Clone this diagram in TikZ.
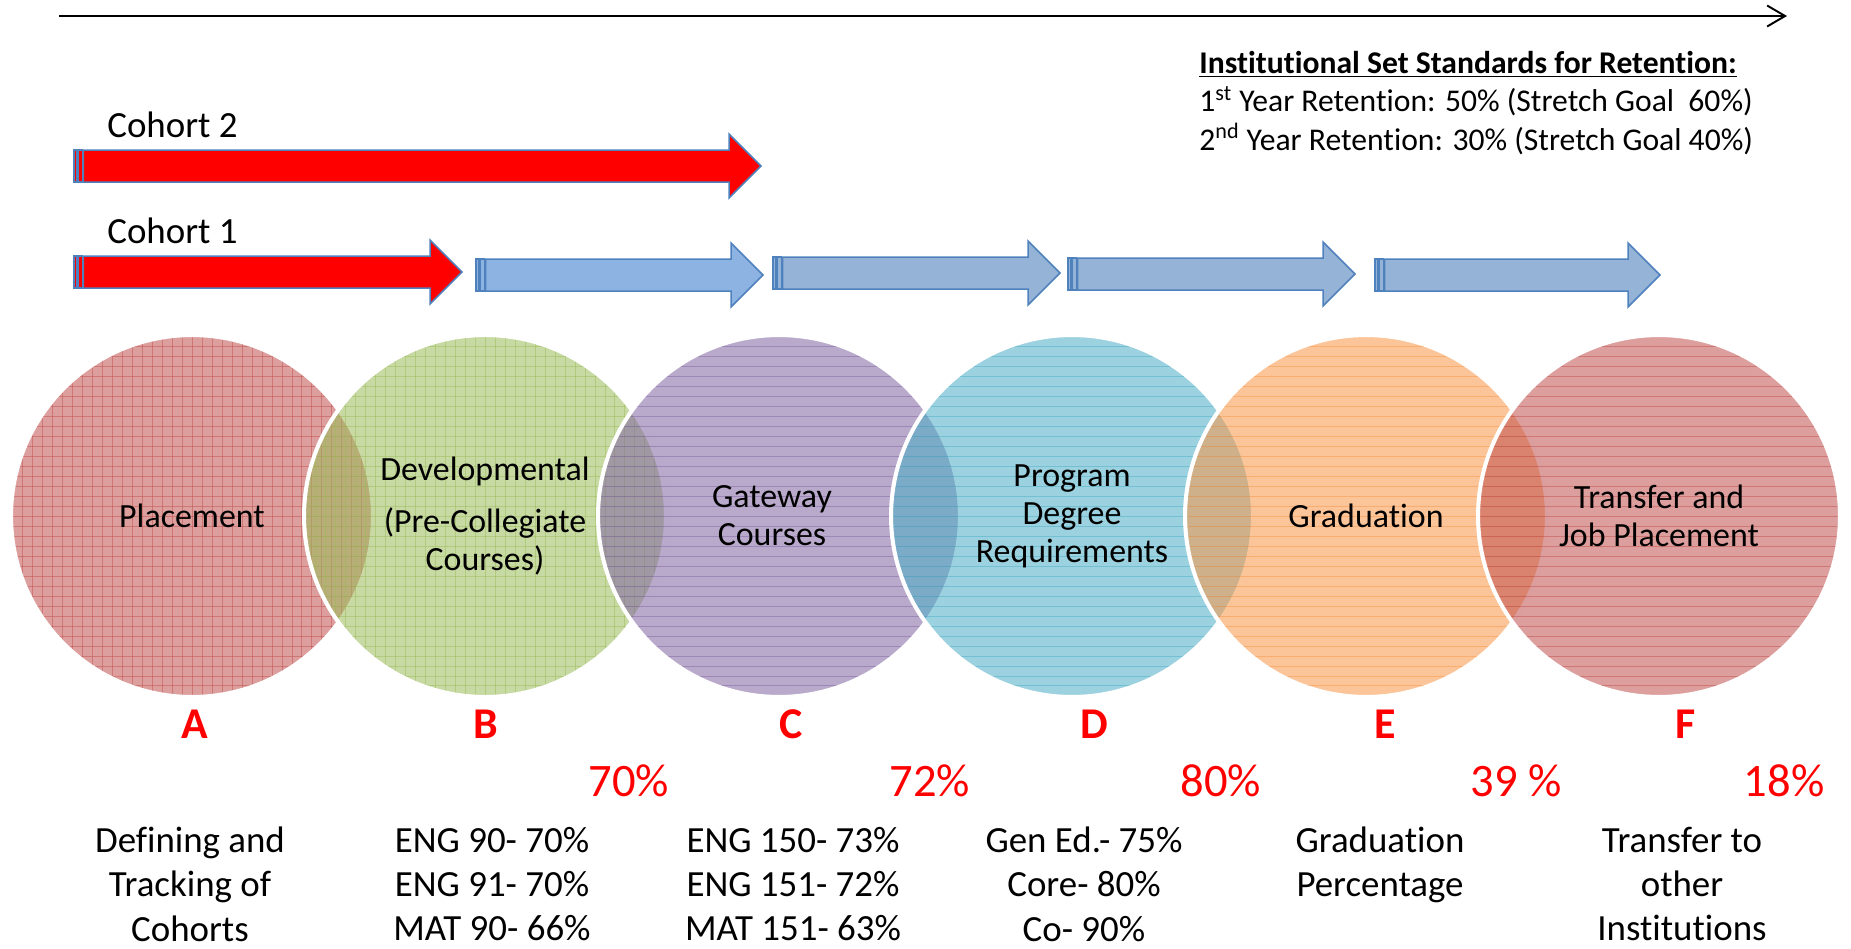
\documentclass[tikz,border=0pt]{standalone}
\usepackage{fontspec}
\setmainfont{Carlito}[Ligatures={NoCommon,NoContextual,NoRequired}]
\usetikzlibrary{arrows.meta}
\definecolor{vennRed}{HTML}{C0504D}
\definecolor{vennGreen}{HTML}{9BBB59}
\definecolor{vennPurple}{HTML}{8064A2}
\definecolor{vennAqua}{HTML}{4BACC6}
\definecolor{vennOrange}{HTML}{F79646}
\definecolor{stageBlue}{HTML}{8DB3E2}
\definecolor{stageGrey}{HTML}{95B3D7}
\definecolor{shapeLine}{HTML}{4F81BD}
\begin{document}
\begin{tikzpicture}[x=0.02cm, y=-0.02cm,
    vennStyle/.style={circle, minimum size=7.24cm, inner sep=0pt, fill=#1, fill opacity=0.55, text opacity=1, draw=white, line width=2.3pt, align=center, font=\fontsize{19.3}{21.6}\selectfont},
    hLines/.style={path picture={
        \foreach \k in {-18,...,18}
            \draw[#1, line width=0.55pt, opacity=0.5] ([yshift=\k*0.2cm]path picture bounding box.west) -- ([yshift=\k*0.2cm]path picture bounding box.east);}},
    gridLines/.style={path picture={
        \foreach \k in {-18,...,18} {
            \draw[#1, line width=0.55pt, opacity=0.5] ([yshift=\k*0.2cm]path picture bounding box.west) -- ([yshift=\k*0.2cm]path picture bounding box.east);
            \draw[#1, line width=0.55pt, opacity=0.5] ([xshift=\k*0.2cm]path picture bounding box.north) -- ([xshift=\k*0.2cm]path picture bounding box.south);}}},
    arrowLine/.style={draw=shapeLine, line width=0.85pt, line join=miter},
    cohortStyle/.style={anchor=base west, inner sep=0pt, font=\fontsize{21}{25}\selectfont},
    stdStyle/.style={anchor=west, inner sep=0pt, font=\fontsize{18}{21.6}\selectfont},
    tagStyle/.style={text=red, font=\fontsize{25}{30}\selectfont\bfseries},
    rateStyle/.style={text=red, font=\fontsize{26.5}{30}\selectfont},
    noteStyle/.style={align=center, font=\fontsize{21}{25.3}\selectfont}]
    \useasboundingbox (0,0) rectangle (1851,948);

    % time line
    \coordinate (timeStart) at (59,16);
    \coordinate (timeEnd) at (1787,16);
    \draw[line width=1.1pt, -{Straight Barb[length=0.36cm, width=0.42cm]}] (timeStart) -- (timeEnd);

    % retention standards
    \node[stdStyle] (stdTitle) at (1199,64) {\bfseries\underline{Institutional Set Standards for Retention:}};
    \node[stdStyle] (stdFirst) at (1199,101) {1\textsuperscript{st} Year Retention: 50\% (Stretch Goal~~60\%)};
    \node[stdStyle] (stdSecond) at (1199,139) {2\textsuperscript{nd} Year Retention: 30\% (Stretch Goal 40\%)};

    % cohorts
    \node[cohortStyle] (cohortTwo) at (107,137) {Cohort 2};
    \node[cohortStyle] (cohortOne) at (107,243) {Cohort 1};

    \foreach \xa/\xb/\yc/\col in {74/761/166/red, 74/462/272/red, 476/763/275/stageBlue, 773/1060/273/stageGrey, 1068/1355/274/stageGrey, 1375/1660/275/stageGrey} {
        \draw[arrowLine, fill=\col] (\xa,\yc-16) rectangle ++(3,32);
        \draw[arrowLine, fill=\col] (\xa+4.5,\yc-16) rectangle ++(4,32);
        \draw[arrowLine, fill=\col] (\xa+9.5,\yc-16) -- (\xb-32,\yc-16) -- (\xb-32,\yc-32) -- (\xb,\yc)
            -- (\xb-32,\yc+32) -- (\xb-32,\yc+16) -- (\xa+9.5,\yc+16) -- cycle;
    }

    % stages
    \node[vennStyle=vennRed, gridLines=vennRed] (placement) at (192,516) {Placement};
    \node[vennStyle=vennGreen, gridLines=vennGreen] (developmental) at (485,516) {Developmental\\[8.5pt](Pre-Collegiate\\Courses)};
    \node[vennStyle=vennPurple, hLines=vennPurple] (gateway) at (779,516) {Gateway\hspace*{8pt}\\Courses\hspace*{8pt}};
    \node[vennStyle=vennAqua, hLines=vennAqua] (program) at (1072,516) {Program\\Degree\\Requirements};
    \node[vennStyle=vennOrange, hLines=vennOrange] (graduation) at (1366,516) {Graduation};
    \node[vennStyle=vennRed, hLines=vennRed] (transfer) at (1659,516) {Transfer and\\Job Placement};

    \node[tagStyle] (tagA) at (195,724) {A};
    \node[tagStyle] (tagB) at (486,724) {B};
    \node[tagStyle] (tagC) at (791,724) {C};
    \node[tagStyle] (tagD) at (1094,724) {D};
    \node[tagStyle] (tagE) at (1385,724) {E};
    \node[tagStyle] (tagF) at (1686,724) {F};

    \node[rateStyle] (rateB) at (629,781) {70\%};
    \node[rateStyle] (rateC) at (930,781) {72\%};
    \node[rateStyle] (rateD) at (1221,781) {80\%};
    \node[rateStyle] (rateE) at (1516,781) {39 \%};
    \node[rateStyle] (rateF) at (1784,781) {18\%};

    \node[noteStyle] (noteA) at (190,884) {Defining and\\Tracking of\\Cohorts};
    \node[noteStyle] (noteB) at (492,884) {ENG 90- 70\%\\ENG 91- 70\%\\MAT 90- 66\%};
    \node[noteStyle] (noteC) at (793,884) {ENG 150- 73\%\\ENG 151- 72\%\\MAT 151- 63\%};
    \node[noteStyle] (noteD) at (1084,884) {Gen Ed.- 75\%\\Core- 80\%\\Co- 90\%};
    \node[noteStyle] (noteE) at (1380,865) {Graduation\\Percentage};
    \node[noteStyle] (noteF) at (1682,884) {Transfer to\\other\\Institutions};
\end{tikzpicture}
\end{document}
